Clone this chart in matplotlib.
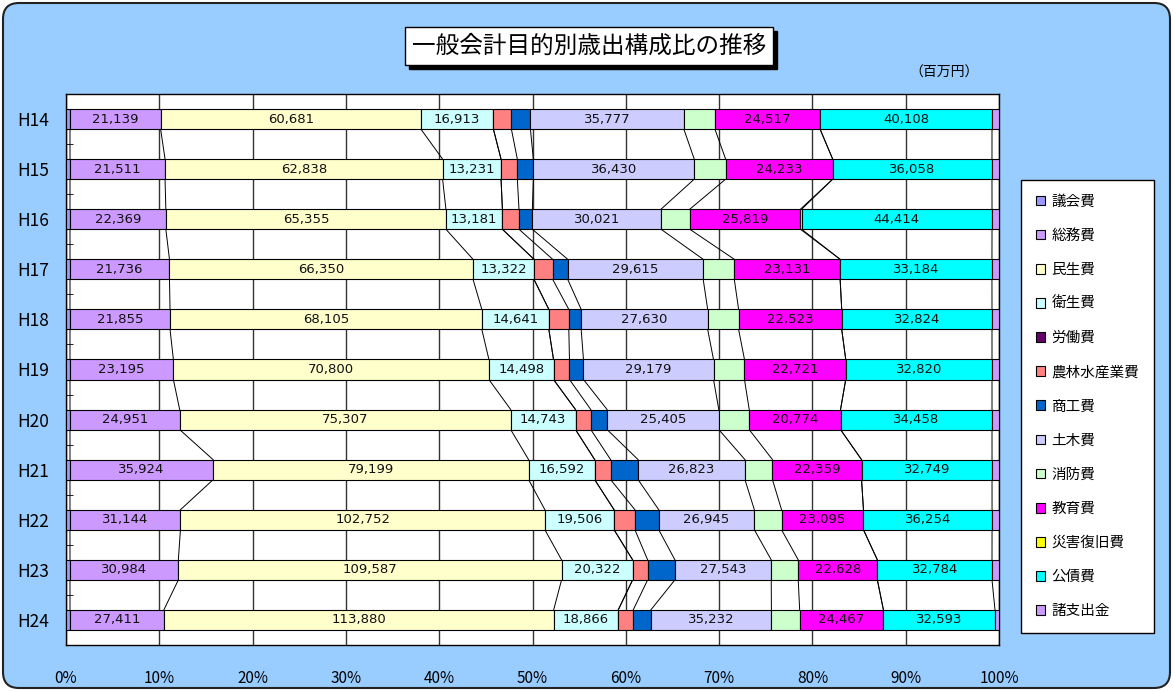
import numpy as np
import matplotlib.pyplot as plt
from matplotlib.patches import FancyBboxPatch, Rectangle, Patch
from matplotlib.transforms import IdentityTransform

plt.rcParams['font.family'] = ['Noto Sans CJK JP', 'DejaVu Sans']

# data (百万円)
years = ['H14', 'H15', 'H16', 'H17', 'H18', 'H19', 'H20', 'H21', 'H22', 'H23', 'H24']
series_names = ['議会費', '総務費', '民生費', '衛生費', '労働費', '農林水産業費', '商工費',
                '土木費', '消防費', '教育費', '災害復旧費', '公債費', '諸支出金']

gikai = [930, 910, 930, 880, 870, 900, 910, 1000, 1120, 1140, 1170]
somu = [21139, 21511, 22369, 21736, 21855, 23195, 24951, 35924, 31144, 30984, 27411]
minsei = [60681, 62838, 65355, 66350, 68105, 70800, 75307, 79199, 102752, 109587, 113880]
eisei = [16913, 13231, 13181, 13322, 14641, 14498, 14743, 16592, 19506, 20322, 18866]
rodo = [0, 0, 0, 0, 0, 0, 0, 0, 0, 0, 0]
norin = [4200, 3690, 3870, 4080, 4360, 3580, 3480, 4000, 5880, 4290, 4380]
shoko = [4440, 3620, 3120, 3290, 2700, 3140, 3710, 6900, 6720, 7800, 5140]
doboku = [35777, 36430, 30021, 29615, 27630, 29179, 25405, 26823, 26945, 27543, 35232]
shobo = [7240, 7110, 6710, 6800, 6760, 6950, 6920, 6900, 7670, 7720, 8260]
kyoiku = [24517, 24233, 25819, 23131, 22523, 22721, 20774, 22359, 23095, 22628, 24467]
saigai = [0, 0, 300, 0, 0, 0, 0, 0, 0, 0, 0]
kosai = [40108, 36058, 44414, 33184, 32824, 32820, 34458, 32749, 36254, 32784, 32593]
shoshi = [1630, 1590, 1630, 1540, 1530, 1570, 1590, 1750, 1960, 2000, 1170]

colors = ['#9999FF', '#CC99FF', '#FFFFCC', '#CCFFFF', '#660066', '#FF8080', '#0066CC',
          '#CCCCFF', '#CCFFCC', '#FF00FF', '#FFFF00', '#00FFFF', '#CC99FF']
labeled = ['総務費', '民生費', '衛生費', '土木費', '教育費', '公債費']

vals = np.array([gikai, somu, minsei, eisei, rodo, norin, shoko,
                 doboku, shobo, kyoiku, saigai, kosai, shoshi], dtype=float).T
pct = vals / vals.sum(axis=1, keepdims=True) * 100
cum = np.cumsum(pct, axis=1)

W, H = 1173, 691
fig = plt.figure(figsize=(W / 100, H / 100), dpi=100)
fig.patch.set_facecolor('white')

# rounded blue background
bg = FancyBboxPatch((3, 3), W - 6, H - 6, boxstyle='round,pad=0,rounding_size=16',
                    transform=IdentityTransform(), facecolor='#99CCFF',
                    edgecolor='#222222', lw=1.5, zorder=0)
fig.add_artist(bg)

ax = fig.add_axes([66 / W, 1 - 645 / H, (999 - 66) / W, (645 - 94) / H])
ax.set_facecolor('white')

y = np.arange(len(years))
left = np.zeros(len(years))
for j, name in enumerate(series_names):
    ax.barh(y, pct[:, j], left=left, height=0.4, color=colors[j],
            edgecolor='black', lw=0.8, zorder=3)
    if name in labeled:
        for i in range(len(years)):
            ax.text(left[i] + pct[i, j] / 2, y[i], f'{int(vals[i, j]):,}',
                    ha='center', va='center', fontsize=9.5, family='DejaVu Sans',
                    color='#111111', zorder=4)
    left = left + pct[:, j]

# series lines
for j in range(len(series_names) - 1):
    for i in range(len(years) - 1):
        ax.plot([cum[i, j], cum[i + 1, j]], [y[i] + 0.2, y[i + 1] - 0.2],
                color='black', lw=0.7, zorder=2)

ax.set_xlim(0, 100)
ax.set_ylim(len(years) - 0.5, -0.5)
ax.set_xticks(np.arange(0, 101, 10))
ax.set_xticklabels([f'{t}%' for t in range(0, 101, 10)], fontsize=11)
ax.set_yticks(y)
ax.set_yticklabels(years, fontsize=12.5)
ax.set_yticks(np.arange(len(years) + 1) - 0.5, minor=True)
ax.tick_params(axis='x', length=0, pad=18)
ax.tick_params(axis='y', which='major', length=0, pad=12)
ax.tick_params(axis='y', which='minor', direction='in', length=5, color='black')
ax.xaxis.grid(True, color='#333333', lw=1)
ax.set_axisbelow(True)
for s in ax.spines.values():
    s.set_color('black')
    s.set_linewidth(1)

# title box with shadow
fig.add_artist(Rectangle((409, H - 69), 368, 38, transform=IdentityTransform(),
                         facecolor='black', edgecolor='black', zorder=5))
fig.add_artist(Rectangle((405, H - 65), 368, 38, transform=IdentityTransform(),
                         facecolor='white', edgecolor='black', lw=1, zorder=6))
fig.text(589 / W, 1 - 46 / H, '一般会計目的別歳出構成比の推移', ha='center', va='center',
         fontsize=17, zorder=7)
fig.text(944 / W, 1 - 73 / H, '（百万円）', ha='center', va='center', fontsize=10)

handles = [Patch(facecolor=c, edgecolor='black', lw=0.8) for c in colors]
leg = fig.legend(handles, series_names, loc='upper left',
                 bbox_to_anchor=(1021 / W, 1 - 180 / H), frameon=True, fancybox=False,
                 edgecolor='black', framealpha=1, fontsize=10.5, labelspacing=1.38,
                 handlelength=0.65, handleheight=0.65, handletextpad=0.45,
                 borderpad=1.0, borderaxespad=0)
leg.get_frame().set_linewidth(1)
leg.get_frame().set_facecolor('white')

fig.savefig('out.png', dpi=100)
